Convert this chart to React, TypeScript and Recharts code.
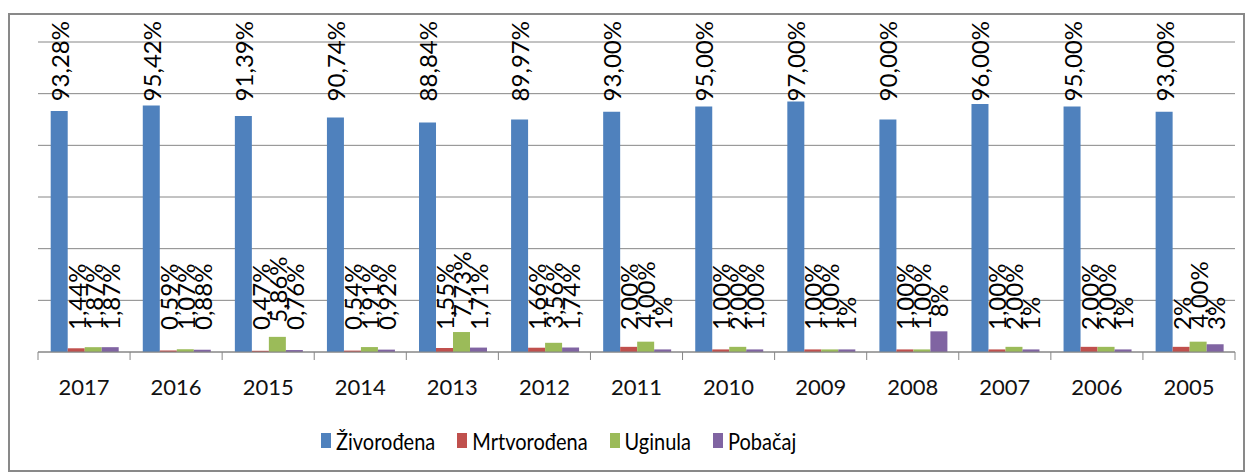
import React from 'react';
import { BarChart, Bar, XAxis, YAxis, CartesianGrid, LabelList } from 'recharts';

const years = ['2017', '2016', '2015', '2014', '2013', '2012', '2011', '2010', '2009', '2008', '2007', '2006', '2005'];
const zivorodjena = [93.28, 95.42, 91.39, 90.74, 88.84, 89.97, 93, 95, 97, 90, 96, 95, 93];
const mrtvorodjena = [1.44, 0.59, 0.47, 0.54, 1.55, 1.66, 2, 1, 1, 1, 1, 2, 2];
const uginula = [1.87, 1.07, 5.86, 1.91, 7.73, 3.56, 4, 2, 1, 1, 2, 2, 4];
const pobacaj = [1.87, 0.88, 0.76, 0.92, 1.71, 1.74, 1, 1, 1, 8, 1, 1, 3];

const zivLabels = ['93,28%', '95,42%', '91,39%', '90,74%', '88,84%', '89,97%', '93,00%', '95,00%', '97,00%', '90,00%', '96,00%', '95,00%', '93,00%'];
const mrtvLabels = ['1,44%', '0,59%', '0,47%', '0,54%', '1,55%', '1,66%', '2,00%', '1,00%', '1,00%', '1,00%', '1,00%', '2,00%', '2%'];
const ugLabels = ['1,87%', '1,07%', '5,86%', '1,91%', '7,73%', '3,56%', '4,00%', '2,00%', '1,00%', '1,00%', '2,00%', '2,00%', '4,00%'];
const pobLabels = ['1,87%', '0,88%', '0,76%', '0,92%', '1,71%', '1,74%', '1%', '1,00%', '1%', '8%', '1%', '1%', '3%'];

const yTicks = [0, 20, 40, 60, 80, 100, 120];

const series = [
  { key: 'ziv', lbl: 'zivL', name: 'Živorođena', color: '#4F81BD' },
  { key: 'mrtv', lbl: 'mrtvL', name: 'Mrtvorođena', color: '#C0504D' },
  { key: 'ug', lbl: 'ugL', name: 'Uginula', color: '#9BBB59' },
  { key: 'pob', lbl: 'pobL', name: 'Pobačaj', color: '#8064A2' },
];

const data = years.map((y, i) => ({
  year: y,
  ziv: zivorodjena[i],
  mrtv: mrtvorodjena[i],
  ug: uginula[i],
  pob: pobacaj[i],
  zivL: zivLabels[i],
  mrtvL: mrtvLabels[i],
  ugL: ugLabels[i],
  pobL: pobLabels[i],
}));

const FONT = 'Lato, "Open Sans", sans-serif';
const W = 1252;
const H = 476;
const M = { top: 42, right: 17, left: 38, bottom: 84 };
const AXIS_H = 40;

// Excel pushes the long labels down so they stay inside the chart
const bigLabel = (props: any) => {
  const { x, width, value } = props;
  const cx = x + width / 2;
  const ty = M.top - 21;
  return (
    <text x={cx} y={ty} transform={`rotate(-90, ${cx}, ${ty})`} textAnchor="end" dominantBaseline="central"
      fontFamily={FONT} fontSize={24} fill="#000">{value}</text>
  );
};

const smallLabel = (props: any) => {
  const { x, y, width, value } = props;
  const cx = x + width / 2;
  const ty = Math.min(330, y - 14);
  return (
    <text x={cx} y={ty} transform={`rotate(-90, ${cx}, ${ty})`} textAnchor="start" dominantBaseline="central"
      fontFamily={FONT} fontSize={24} fill="#000">{value}</text>
  );
};

const YearTick = (props: any) => {
  const { x, y, payload, index } = props;
  const half = payload.offset ?? (W - M.left - M.right) / years.length / 2;
  return (
    <g>
      <line x1={x - half} y1={y} x2={x - half} y2={y + 8} stroke="#868686" />
      {index === years.length - 1 && <line x1={x + half} y1={y} x2={x + half} y2={y + 8} stroke="#868686" />}
      <text x={x} y={y + 34} textAnchor="middle" dominantBaseline="central" fontFamily={FONT} fontSize={22} fill="#111">
        {payload.value}
      </text>
    </g>
  );
};

export default function App() {
  return (
    <div style={{ position: 'absolute', left: 0, top: 0, width: W, height: H, background: '#fff' }}>
      <div style={{ position: 'absolute', left: 8, top: 13, width: 1233, height: 455, border: '2px solid #898989' }} />
      <div style={{ position: 'absolute', left: 0, top: 0 }}>
        <BarChart width={W} height={H} data={data} margin={M} barCategoryGap="13.8%" barGap={0}>
          <CartesianGrid vertical={false} stroke="#868686" />
          <XAxis dataKey="year" height={AXIS_H} axisLine={{ stroke: '#868686' }} tickLine={false} tickSize={0}
            tickMargin={0} tick={<YearTick />} interval={0} />
          <YAxis hide domain={[0, 120]} ticks={yTicks} />
          {series.map((s, i) => (
            <Bar key={s.key} dataKey={s.key} name={s.name} fill={s.color} isAnimationActive={false}>
              <LabelList dataKey={s.lbl} content={i === 0 ? bigLabel : smallLabel} />
            </Bar>
          ))}
        </BarChart>
      </div>
      <div style={{ position: 'absolute', left: 321, top: 428, display: 'flex', alignItems: 'center', fontFamily: FONT, fontSize: 20, color: '#000' }}>
        {series.map((s) => (
          <div key={s.key} style={{ display: 'flex', alignItems: 'center', marginRight: 22 }}>
            <span style={{ display: 'inline-block', width: 10, height: 15, background: s.color, marginRight: 5 }} />
            <span style={{ display: 'inline-block', transform: 'scaleY(1.2)' }}>{s.name}</span>
          </div>
        ))}
      </div>
    </div>
  );
}
